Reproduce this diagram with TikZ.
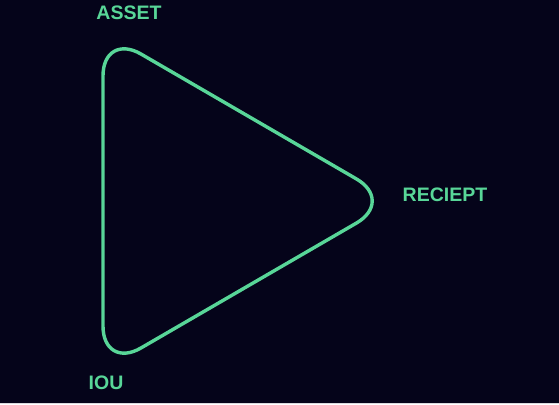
\documentclass[tikz,border=0pt]{standalone}
\usepackage{fontspec}
\setmainfont{Liberation Sans}
\definecolor{bg}{RGB}{5,4,26}
\definecolor{mint}{RGB}{88,214,152}
\tikzset{
  lbl/.style={text=mint, font=\fontsize{19.5}{21}\selectfont\bfseries, inner sep=0pt},
  tri/.style={draw=mint, line width=3.4pt, rounded corners=44pt, line join=round}
}
\begin{document}
\begin{tikzpicture}[x=1pt,y=-1pt]
\fill[bg] (0,0) rectangle (559,404);
\fill[white!85!bg] (0,402.8) rectangle (559,404);
\useasboundingbox (0,0) rectangle (559,404);
\coordinate (A) at (103,32);
\coordinate (B) at (394.5,201);
\coordinate (C) at (103,370);
\draw[tri] (A) -- (B) -- (C) -- cycle;
\node[lbl] (asset) at (129,12.5) {ASSET};
\node[lbl] (reciept) at (445,194.5) {RECIEPT};
\node[lbl] (iou) at (106,382.5) {IOU};
\end{tikzpicture}
\end{document}
